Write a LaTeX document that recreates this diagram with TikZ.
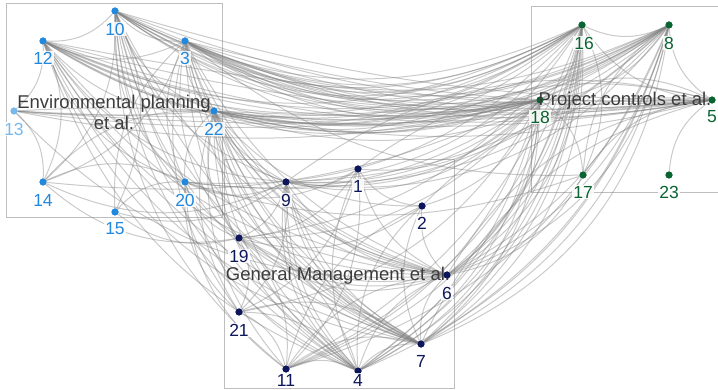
\documentclass[tikz,border=0pt]{standalone}
\usepackage{fontspec}
\setmainfont{Liberation Sans}
\definecolor{envblue}{RGB}{33,136,221}
\definecolor{envlight}{RGB}{120,185,235}
\definecolor{gmnavy}{RGB}{12,22,90}
\definecolor{pcgreen}{RGB}{10,100,50}
\definecolor{boxgray}{RGB}{190,190,190}
\definecolor{labelgray}{RGB}{60,60,60}
\begin{document}
\begin{tikzpicture}[x=1pt,y=-1pt,
  dot/.style={circle,fill=#1,inner sep=0pt,minimum size=7pt},
  num/.style={text=#1,fill=white,fill opacity=0.85,text opacity=1,inner sep=1pt,
    font=\fontsize{17.5}{17.5}\selectfont},
  link/.style={draw=black!50,opacity=0.42,line width=1pt},
  grp/.style={draw=boxgray,line width=1pt},
  grplabel/.style={text=labelgray,font=\fontsize{18.5}{21}\selectfont,align=center,inner sep=0pt}
]
\useasboundingbox (0,0) rectangle (718,390);

% group frames
\draw[grp] (6,4) rectangle (222,218);
\draw[grp] (224,160) rectangle (454,388);
\draw[grp] (531,7) rectangle (725,193);

% Environmental planning et al.
\node[dot=envblue]  (n10) at (115,11) {};
\node[dot=envblue]  (n3)  at (185,41) {};
\node[dot=envblue]  (n22) at (214,111) {};
\node[dot=envblue]  (n20) at (185,182) {};
\node[dot=envblue]  (n15) at (115,212) {};
\node[dot=envblue]  (n14) at (43,182) {};
\node[dot=envlight] (n13) at (14,111) {};
\node[dot=envblue]  (n12) at (43,41) {};

% General Management et al.
\node[dot=gmnavy] (n9)  at (286,182) {};
\node[dot=gmnavy] (n1)  at (358,169) {};
\node[dot=gmnavy] (n2)  at (422,206) {};
\node[dot=gmnavy] (n6)  at (447,275) {};
\node[dot=gmnavy] (n7)  at (421,344) {};
\node[dot=gmnavy] (n4)  at (358,371) {};
\node[dot=gmnavy] (n11) at (286,369) {};
\node[dot=gmnavy] (n21) at (239,312) {};
\node[dot=gmnavy] (n19) at (239,238) {};

% Project controls et al.
\node[dot=pcgreen] (n16) at (582,25) {};
\node[dot=pcgreen] (n8)  at (669,25) {};
\node[dot=pcgreen] (n5)  at (712,100) {};
\node[dot=pcgreen] (n23) at (669,175) {};
\node[dot=pcgreen] (n17) at (583,175) {};
\node[dot=pcgreen] (n18) at (540,100) {};

% links inside the groups and towards General Management
\foreach \a/\b in {
  10/3,12/10,12/3,12/22,12/20,13/12,14/12,14/13,14/10,14/3,20/14,22/14,
  15/10,3/15,20/15,10/20,3/20,22/20,10/22,3/22,
  10/9,10/19,10/11,10/4,10/7,10/6,
  3/9,3/19,3/4,3/7,3/6,3/21,
  22/9,22/19,22/21,22/11,22/4,22/7,22/6,22/2,
  12/9,12/4,12/7,12/6,
  20/9,20/19,20/21,20/11,20/4,20/1,
  15/19,15/9,14/9,14/19,13/6,
  9/1,19/9,21/19,21/9,11/19,11/21,4/11,4/21,4/19,7/4,7/11,7/21,
  6/7,6/4,6/11,2/6,2/7,2/4,2/11,1/2,1/6,1/4,11/1,9/4,9/7,9/6,
  19/1,19/2,19/6,21/1,
  9/18,9/16,9/8,19/18,19/16,21/18,
  11/18,11/16,11/8,4/18,4/16,4/8,
  7/18,7/16,7/8,6/18,6/16,6/8,6/17,
  2/18,1/18,
  5/6,5/7,5/2,5/1,5/9,
  16/8,16/5,8/5,5/23,5/17,17/16,8/17,18/16,18/8,17/18,5/18}
  \draw[link] (n\a) to[bend right=25] (n\b);
\foreach \a/\b in {
  22/7,22/6,10/7,3/6,12/6,22/4,3/7,10/4,12/7,
  9/7,9/4,19/6,
  4/16,7/16,6/16,11/16,7/8,6/8,4/18,9/18,9/8}
  {\draw[link] (n\a) to[bend right=20] (n\b);
   \draw[link] (n\a) to[bend right=30] (n\b);}

% links from Environmental planning to Project controls (source/target/bend)
\foreach \a/\b/\t in {
  12/16/30,12/8/28,12/18/20,12/5/10,
  10/16/30,10/8/30,10/18/20,10/5/12,
  3/16/30,3/8/30,3/18/20,3/5/12,3/17/20,
  22/16/25,22/8/25,22/18/12,22/5/8,
  13/18/8,13/5/5,14/18/15,
  20/18/20,20/16/25,20/8/25,20/17/18}
  \draw[link] (n\a) to[bend right=\t] (n\b);
\foreach \a/\b/\t in {
  12/18/20,10/18/20,3/18/20,22/18/12,12/5/10,3/5/12,10/5/12,22/5/8,
  10/8/30,3/8/30,3/16/30,12/16/30,22/16/25,22/8/25,10/16/30,12/8/28,13/18/8}
  {\draw[link] (n\a) to[bend right=\t-4] (n\b);
   \draw[link] (n\a) to[bend right=\t+4] (n\b);}
\draw[link] (n13) to[bend right=4] (n22);
\draw[link] (n13) to[bend left=3] (n22);

% dots above the links
\foreach \n/\c in {10/envblue,3/envblue,22/envblue,20/envblue,15/envblue,14/envblue,
  13/envlight,12/envblue,9/gmnavy,1/gmnavy,2/gmnavy,6/gmnavy,7/gmnavy,4/gmnavy,
  11/gmnavy,21/gmnavy,19/gmnavy,16/pcgreen,8/pcgreen,5/pcgreen,23/pcgreen,
  17/pcgreen,18/pcgreen}
  \fill[\c] (n\n) circle (3.5pt);

% node numbers
\node[num=envblue]  (l10) at (115,29) {10};
\node[num=envblue]  (l3)  at (185,58) {3};
\node[num=envblue]  (l22) at (214,129) {22};
\node[num=envblue]  (l20) at (185,200) {20};
\node[num=envblue]  (l15) at (115,229) {15};
\node[num=envblue]  (l14) at (43,200) {14};
\node[num=envlight] (l13) at (14,129) {13};
\node[num=envblue]  (l12) at (43,58) {12};

\node[num=gmnavy] (l9)  at (286,200) {9};
\node[num=gmnavy] (l1)  at (358,186) {1};
\node[num=gmnavy] (l2)  at (422,223) {2};
\node[num=gmnavy] (l6)  at (447,293) {6};
\node[num=gmnavy] (l7)  at (421,361) {7};
\node[num=gmnavy] (l4)  at (358,380) {4};
\node[num=gmnavy] (l11) at (286,380) {11};
\node[num=gmnavy] (l21) at (239,330) {21};
\node[num=gmnavy] (l19) at (239,256) {19};

\node[num=pcgreen] (l16) at (584,43) {16};
\node[num=pcgreen] (l8)  at (669,43) {8};
\node[num=pcgreen] (l5)  at (712,117) {5};
\node[num=pcgreen] (l23) at (669,192) {23};
\node[num=pcgreen] (l17) at (583,192) {17};
\node[num=pcgreen] (l18) at (540,117) {18};

% group titles
\node[grplabel] (tenv) at (114,112) {Environmental planning\\et al.};
\node[grplabel] (tgm)  at (338,276) {General Management et al.};
\node[grplabel] (tpc)  at (625,101) {Project controls et al.};
\end{tikzpicture}
\end{document}
